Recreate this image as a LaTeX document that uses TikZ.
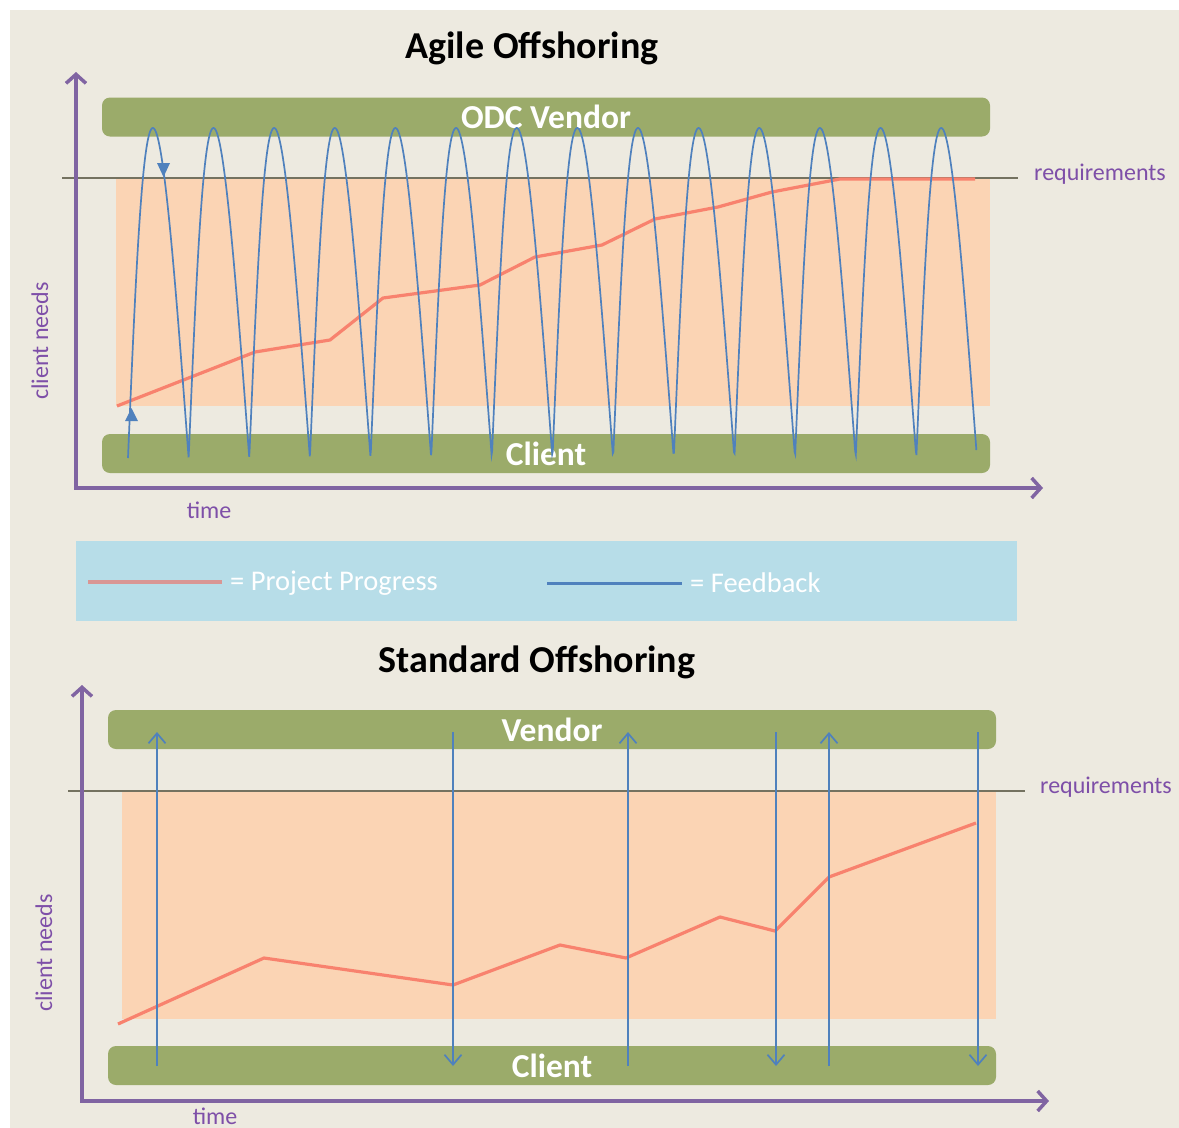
\documentclass[tikz,border=0pt]{standalone}
\usepackage{fontspec}
\setmainfont{Carlito}
\usetikzlibrary{arrows.meta}

\definecolor{paper}{HTML}{EDEAE0}
\definecolor{barGreen}{HTML}{9BAB6A}
\definecolor{zoneOrange}{HTML}{FBD4B4}
\definecolor{axisPurple}{HTML}{8064A2}
\definecolor{labelPurple}{HTML}{7E4FA8}
\definecolor{reqGray}{HTML}{747260}
\definecolor{feedBlue}{HTML}{4F81BD}
\definecolor{progRed}{HTML}{F8826E}
\definecolor{legendBlue}{HTML}{B7DDE8}
\definecolor{legendRed}{HTML}{D99694}

\tikzset{
  axis/.style={draw=axisPurple, line width=3.5pt, line join=miter,
    {Straight Barb[length=9pt,width=20pt]}-{Straight Barb[length=9pt,width=20pt]}},
  party/.style={fill=barGreen, rounded corners=8pt, minimum width=888pt, minimum height=39pt,
    inner sep=0pt, text=white, font=\fontsize{33.5}{33.5}\selectfont\bfseries},
  zone/.style={fill=zoneOrange},
  reqline/.style={draw=reqGray, line width=2pt},
  feedback/.style={draw=feedBlue, line width=1.7pt},
  feedarrow/.style={feedback, -{Straight Barb[length=10pt,width=17pt]}},
  progress/.style={draw=progRed, line width=3.2pt, line join=round},
  axislabel/.style={text=labelPurple, font=\fontsize{24}{24}\selectfont},
  heading/.style={font=\fontsize{38}{38}\selectfont\bfseries},
  legendtext/.style={text=white, anchor=west, inner sep=0pt, font=\fontsize{28.5}{28.5}\selectfont},
}

\begin{document}
\begin{tikzpicture}[x=1pt,y=-1pt]
  \useasboundingbox (0,0) rectangle (1179,1128);
  \fill[paper] (10,10) rectangle (1179,1128);

  % ---- agile offshoring ----
  \node[heading] (titleA) at (532,48) {Agile Offshoring};
  \fill[zone] (116,178) rectangle (990,406);
  \node[party] (vendorA) at (546,117) {ODC Vendor};
  \node[party] (clientA) at (546,453.5) {Client};
  \draw[reqline] (62,178) -- (1018,178);
  \node[axislabel] (reqA) at (1100,174) {requirements};
  \draw[axis] (76,72) -- (76,488) -- (1043,488);
  \node[axislabel, rotate=90] (needsA) at (40,341) {client needs};
  \node[axislabel] (timeA) at (209,510) {time};
  \draw[progress] (117,406) -- (255,352) -- (330,340) -- (383,298) -- (480,285) -- (535,257)
    -- (602,245) -- (655,219) -- (718,207) -- (772,192) -- (840,179) -- (975,179);
  % many short iterations, skewed arches
  \draw[feedback] plot[domain=0:14, samples=1401, variable=\t]
    ({128+60.64*(\t-0.09*abs(sin(180*\t)))}, {458-330*abs(sin(180*\t))});
  \fill[feedBlue] (125,421) -- (138,421) -- (131.5,408) -- cycle;
  \fill[feedBlue] (157,163) -- (170,163) -- (163.5,177) -- cycle;

  % ---- legend ----
  \node[fill=legendBlue, minimum width=941pt, minimum height=80pt, inner sep=0pt] (legend) at (546.5,581) {};
  \draw[legendRed, line width=4pt] (88,582) -- (222,582);
  \node[legendtext] (progKey) at (230,583) {= Project Progress};
  \draw[feedBlue, line width=3pt] (547,583) -- (682,583);
  \node[legendtext] (feedKey) at (690,583) {= Feedback};

  % ---- standard offshoring ----
  \node[heading] (titleB) at (537,662) {Standard Offshoring};
  \fill[zone] (122,791) rectangle (996,1019);
  \node[party] (vendorB) at (552,729.5) {Vendor};
  \node[party] (clientB) at (552,1065.5) {Client};
  \draw[reqline] (68,791) -- (1025,791);
  \node[axislabel] (reqB) at (1106,787) {requirements};
  \draw[axis] (82,685) -- (82,1101) -- (1049,1101);
  \node[axislabel, rotate=90] (needsB) at (44,953) {client needs};
  \node[axislabel] (timeB) at (215,1116) {time};
  \draw[progress] (118,1024) -- (264,958) -- (453,985) -- (560,945) -- (626,958) -- (720,917)
    -- (775,931) -- (829,877) -- (976,823);
  % few long hand-overs
  \foreach \x in {157,628,829}
    \draw[feedarrow] (\x,1066) -- (\x,732);
  \foreach \x in {453,776,978}
    \draw[feedarrow] (\x,732) -- (\x,1066);
\end{tikzpicture}
\end{document}
